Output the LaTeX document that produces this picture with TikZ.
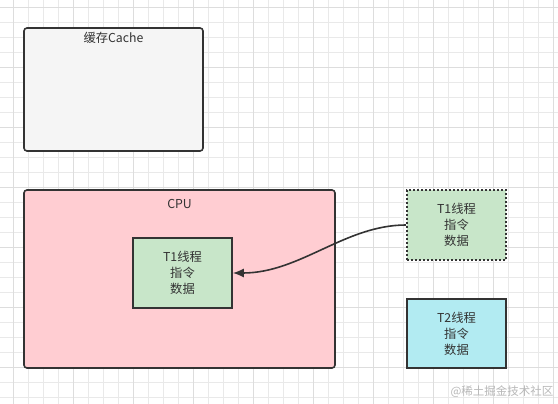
\documentclass[tikz,border=0pt]{standalone}
\usepackage{fontspec}
\setmainfont{Noto Sans CJK SC}
\usetikzlibrary{arrows.meta}
\definecolor{gridc}{HTML}{E9E9E9}
\definecolor{gridm}{HTML}{DDDDDD}
\definecolor{strokec}{HTML}{333333}
\definecolor{cachefill}{HTML}{F5F5F5}
\definecolor{cpufill}{HTML}{FFCDD2}
\definecolor{greenfill}{HTML}{C8E6C9}
\definecolor{cyanfill}{HTML}{B2EBF2}
\definecolor{wm}{HTML}{B8B8B8}
\tikzset{
  box/.style={draw=strokec, line width=1.6, rectangle, inner sep=0, text=strokec},
  lbl/.style={text=strokec, font=\fontsize{12.3}{16}\selectfont, align=center, inner sep=0},
  conn/.style={draw=strokec, line width=1.6, -{Latex[length=11,width=9]}},
}
\begin{document}
\begin{tikzpicture}[x=1pt,y=-1pt]
\useasboundingbox (0,0) rectangle (558,404);
\fill[white] (0,0) rectangle (558,404);
\foreach \x in {13,28,...,558} \draw[gridc, line width=0.6] (\x,0) -- (\x,404);
\foreach \y in {7.5,22.5,...,404} \draw[gridc, line width=0.6] (0,\y) -- (558,\y);
\foreach \x in {13,73,...,558} \draw[gridm, line width=0.8] (\x,0) -- (\x,404);
\foreach \y in {7.5,67.5,...,404} \draw[gridm, line width=0.8] (0,\y) -- (558,\y);

\node[box, fill=cachefill, rounded corners=3, minimum width=179, minimum height=123] (cache) at (113.5,89.5) {};
\node[lbl] (cachelbl) at (113.5,38) {缓存Cache};

\node[box, fill=cpufill, rounded corners=3, minimum width=311, minimum height=178] (cpu) at (179.5,279) {};
\node[lbl] (cpulbl) at (179.5,204) {CPU};

\node[box, fill=greenfill, minimum width=99, minimum height=70, lbl] (t1in) at (182.5,273) {T1线程\\指令\\数据};
\node[box, fill=greenfill, dash pattern=on 2pt off 2pt, line width=2, minimum width=99, minimum height=70, lbl] (t1out) at (456.5,225) {T1线程\\指令\\数据};
\node[box, fill=cyanfill, minimum width=99, minimum height=69, lbl] (t2) at (456.5,333.5) {T2线程\\指令\\数据};

\draw[conn] (t1out.west) .. controls (345,225) and (300,273) .. (t1in.east);

\node[text=wm, font=\fontsize{11.5}{13}\selectfont, inner sep=0] (wmark) at (502,392) {@稀土掘金技术社区};
\end{tikzpicture}
\end{document}
